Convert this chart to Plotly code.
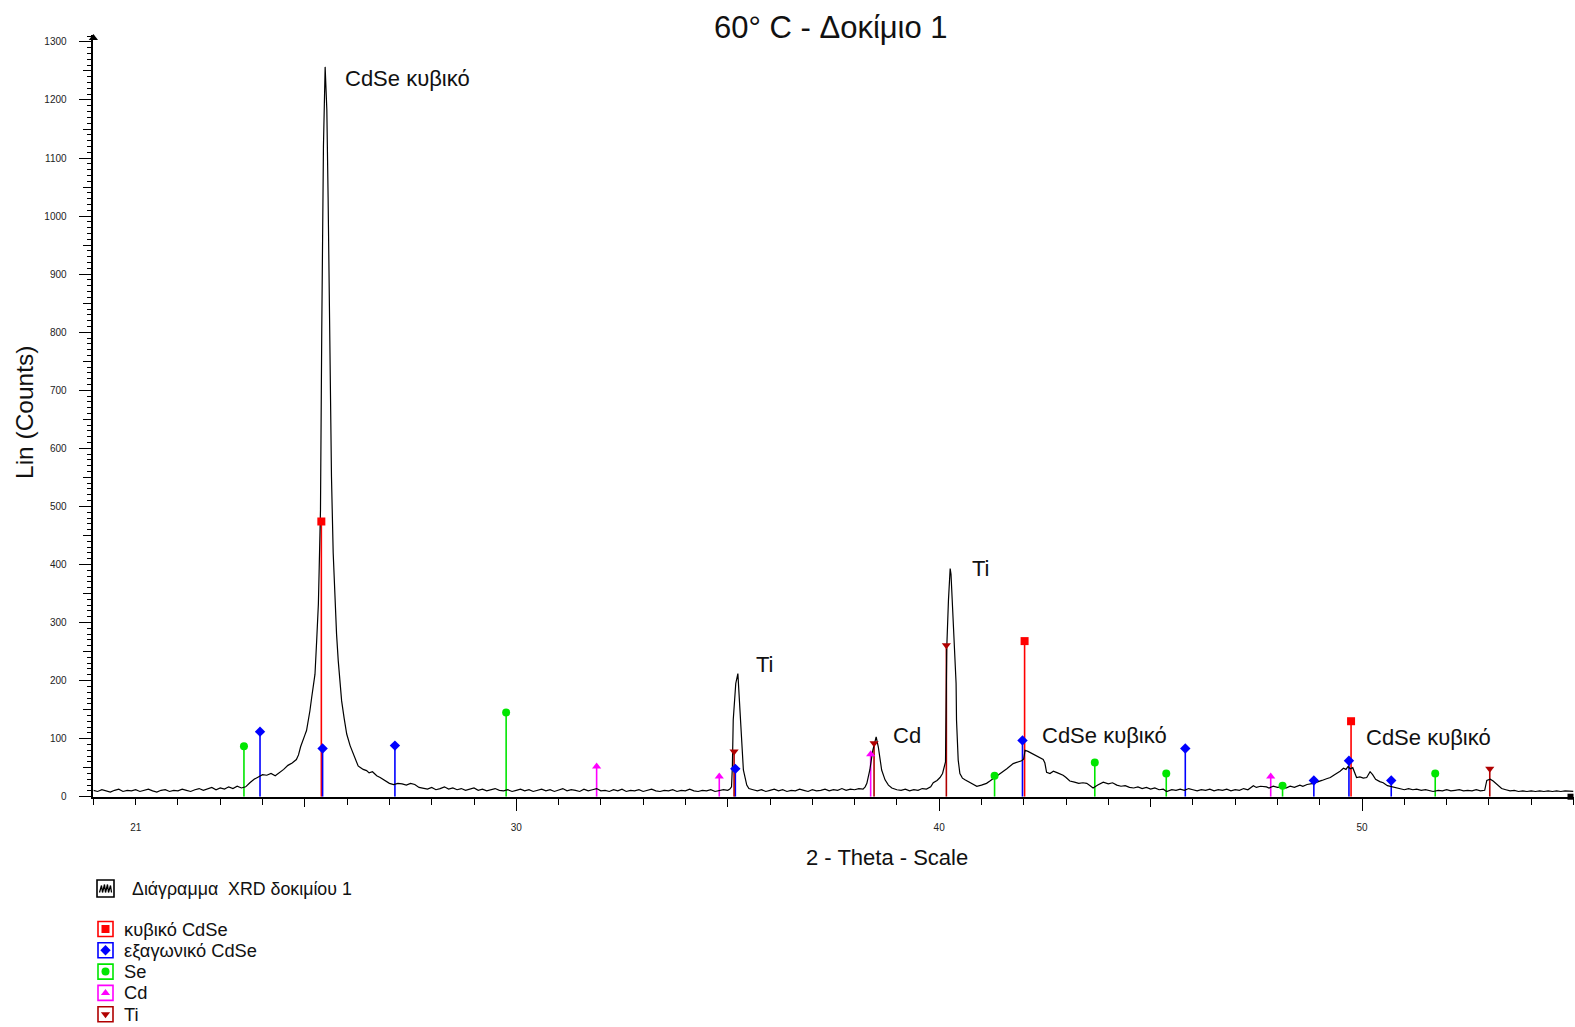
import plotly.graph_objects as go

W, H = 1575, 1027

# ---------------- data ----------------
two_theta = [
    20.0, 20.1, 20.2, 20.3, 20.4, 20.5, 20.6, 20.7, 20.8, 20.9,
    21.0, 21.1, 21.2, 21.3, 21.4, 21.5, 21.6, 21.7, 21.8, 21.9,
    22.0, 22.1, 22.2, 22.3, 22.4, 22.5, 22.6, 22.7, 22.8, 22.9,
    23.0, 23.1, 23.2, 23.3, 23.4, 23.5, 23.6, 23.7, 23.8, 23.9,
    24.0, 24.1, 24.2, 24.3, 24.4, 24.5, 24.6, 24.7, 24.8, 24.85,
    24.9, 24.95, 25.0, 25.04, 25.08, 25.12, 25.16, 25.2, 25.24, 25.28,
    25.32, 25.34, 25.37, 25.40, 25.44, 25.48, 25.50, 25.52, 25.55, 25.59,
    25.63, 25.67, 25.71, 25.75, 25.79, 25.83, 25.87, 25.93, 25.99, 26.07,
    26.15, 26.2, 26.26, 26.32, 26.38, 26.46, 26.52, 26.6, 26.7, 26.78,
    26.86, 26.94, 27.0, 27.1, 27.2, 27.3, 27.4, 27.5, 27.6, 27.7,
    27.8, 27.9, 28.0, 28.1, 28.2, 28.3, 28.4, 28.5, 28.6, 28.7,
    28.8, 28.9, 29.0, 29.1, 29.2, 29.3, 29.4, 29.5, 29.6, 29.7,
    29.8, 29.9, 30.0, 30.1, 30.2, 30.3, 30.4, 30.5, 30.6, 30.7,
    30.8, 30.9, 31.0, 31.1, 31.2, 31.3, 31.4, 31.5, 31.6, 31.7,
    31.8, 31.9, 32.0, 32.1, 32.2, 32.3, 32.4, 32.5, 32.6, 32.7,
    32.8, 32.9, 33.0, 33.1, 33.2, 33.3, 33.4, 33.5, 33.6, 33.7,
    33.8, 33.9, 34.0, 34.1, 34.2, 34.3, 34.4, 34.5, 34.6, 34.7,
    34.8, 34.9, 35.0, 35.05, 35.09, 35.11, 35.13, 35.19, 35.24, 35.27,
    35.33, 35.37, 35.45, 35.5, 35.6, 35.7, 35.8, 35.9, 36.0, 36.1,
    36.2, 36.3, 36.4, 36.5, 36.6, 36.7, 36.8, 36.9, 37.0, 37.1,
    37.2, 37.3, 37.4, 37.5, 37.6, 37.7, 37.8, 37.9, 38.0, 38.1,
    38.2, 38.25, 38.29, 38.36, 38.43, 38.51, 38.56, 38.64, 38.72, 38.8,
    38.88, 39.0, 39.1, 39.2, 39.3, 39.4, 39.5, 39.6, 39.7, 39.8,
    39.86, 39.95, 40.02, 40.08, 40.15, 40.18, 40.22, 40.26, 40.28, 40.31,
    40.37, 40.40, 40.41, 40.45, 40.49, 40.55, 40.61, 40.7, 40.8, 40.89,
    41.0, 41.12, 41.2, 41.28, 41.4, 41.52, 41.6, 41.75, 41.85, 41.95,
    42.0, 42.03, 42.1, 42.15, 42.2, 42.31, 42.4, 42.46, 42.5, 42.54,
    42.62, 42.7, 42.8, 42.93, 43.0, 43.09, 43.2, 43.3, 43.4, 43.49,
    43.57, 43.64, 43.75, 43.88, 44.0, 44.1, 44.2, 44.3, 44.4, 44.5,
    44.6, 44.7, 44.8, 44.9, 45.0, 45.1, 45.2, 45.3, 45.38, 45.5,
    45.6, 45.7, 45.8, 45.9, 46.0, 46.1, 46.2, 46.3, 46.4, 46.5,
    46.6, 46.7, 46.8, 46.9, 47.0, 47.1, 47.2, 47.3, 47.43, 47.5,
    47.6, 47.74, 47.8, 47.9, 48.0, 48.14, 48.2, 48.3, 48.4, 48.53,
    48.6, 48.7, 48.85, 48.95, 49.05, 49.16, 49.25, 49.33, 49.40, 49.48,
    49.56, 49.62, 49.67, 49.72, 49.78, 49.87, 49.95, 50.03, 50.11, 50.19,
    50.25, 50.32, 50.42, 50.5, 50.6, 50.7, 50.8, 50.9, 51.0, 51.1,
    51.2, 51.29, 51.4, 51.5, 51.6, 51.68, 51.8, 51.9, 52.0, 52.1,
    52.2, 52.3, 52.4, 52.5, 52.6, 52.7, 52.8, 52.9, 52.95, 53.03,
    53.1, 53.2, 53.3, 53.4, 53.5, 53.6, 53.7, 53.8, 53.9, 54.0,
    54.1, 54.2, 54.3, 54.4, 54.5, 54.6, 54.7, 54.8, 54.9, 55.0,
]
counts = [
    11, 9, 12, 10, 8, 11, 13, 9, 11, 10,
    12, 9, 11, 13, 10, 8, 11, 12, 9, 11,
    10, 13, 11, 9, 12, 14, 11, 13, 16, 12,
    15, 13, 17, 14, 18, 15, 17, 24, 30, 34,
    38, 37, 40, 36, 41, 47, 54, 58, 64, 72,
    86, 98, 106, 114, 130, 148, 170, 190, 211, 269,
    332, 395, 494, 804, 1120, 1257, 1229, 1183, 1033, 781,
    551, 420, 343, 280, 234, 195, 165, 135, 108, 88,
    73, 62, 53, 50, 47, 45, 41, 43, 36, 33,
    29, 25, 23, 21, 23, 22, 20, 23, 21, 16,
    15, 13, 16, 12, 14, 17, 13, 15, 12, 14,
    11, 13, 15, 11, 13, 10, 12, 14, 11, 10,
    12, 9, 11, 13, 10, 12, 9, 11, 13, 10,
    12, 9, 11, 14, 10, 12, 11, 9, 13, 10,
    12, 14, 10, 11, 9, 12, 10, 13, 9, 11,
    10, 12, 9, 11, 13, 10, 9, 11, 10, 12,
    9, 11, 10, 13, 10, 9, 11, 10, 12, 9,
    11, 12, 11, 13, 17, 52, 132, 195, 212, 178,
    109, 46, 20, 14, 12, 10, 12, 9, 11, 13,
    10, 12, 9, 11, 10, 13, 11, 9, 12, 10,
    11, 13, 10, 12, 11, 14, 11, 13, 12, 14,
    13, 17, 23, 46, 80, 103, 86, 46, 29, 20,
    15, 12, 11, 13, 10, 12, 11, 14, 13, 17,
    24, 28, 33, 40, 60, 258, 339, 393, 383, 339,
    258, 195, 132, 63, 40, 32, 29, 25, 21, 18,
    20, 23, 27, 31, 37, 43, 48, 57, 59, 62,
    65, 80, 78, 76, 74, 70, 67, 64, 58, 42,
    40, 44, 41, 37, 33, 27, 25, 23, 24, 23,
    19, 15, 20, 25, 22, 24, 20, 18, 19, 16,
    15, 17, 14, 16, 13, 15, 12, 13, 9, 12,
    11, 13, 11, 14, 12, 10, 12, 11, 13, 10,
    12, 11, 13, 10, 12, 11, 14, 12, 19, 16,
    18, 17, 15, 18, 16, 17, 15, 18, 16, 20,
    18, 21, 23, 25, 28, 31, 33, 37, 40, 44,
    49, 47, 52, 48, 50, 33, 34, 32, 33, 43,
    38, 30, 26, 24, 19, 17, 15, 14, 12, 14,
    12, 13, 11, 12, 10, 9, 11, 10, 12, 10,
    11, 12, 10, 11, 10, 12, 10, 11, 28, 30,
    27, 21, 14, 12, 10, 11, 9, 10, 9, 10,
    9, 10, 9, 10, 9, 10, 9, 10, 9, 9,
]

# reference patterns (stick positions and heights)
cubic_pos = [25.39, 42.02, 49.74]
cubic_int = [474, 268, 130]
hex_pos = [23.94, 25.42, 27.13, 35.18, 41.97, 45.82, 48.86, 49.69, 50.69]
hex_int = [112, 83, 88, 48, 97, 83, 28, 62, 28]
se_pos = [23.56, 29.76, 41.31, 43.68, 45.37, 48.12, 51.73]
se_int = [87, 145, 36, 59, 40, 19, 40]
cd_pos = [31.90, 34.80, 38.38, 47.84]
cd_int = [52, 35, 73, 35]
ti_pos = [35.15, 38.46, 40.17, 53.02]
ti_int = [78, 92, 261, 48]

phase_names = ["κυβικό CdSe", "εξαγωνικό CdSe", "Se", "Cd", "Ti"]
pattern_name = "Διάγραμμα  XRD δοκιμίου 1"

peak_labels = ["CdSe κυβικό", "Ti", "Cd", "Ti", "CdSe κυβικό", "CdSe κυβικό"]
peak_label_x = [25.91, 35.61, 38.86, 40.74, 42.38, 50.05]
peak_label_y = [1237, 227, 106, 393, 106, 102]

x_tick_vals = [21, 30, 40, 50]
y_tick_vals = list(range(0, 1301, 100))

# ---------------- style / layout ----------------
FONT = "Liberation Sans, Arial, sans-serif"
X0, X1 = 93.4, 1573.5          # plot left / right (px)
YT, YB = 35.0, 796.7           # plot top / bottom (px)
PX_PER_COUNT = 0.5806
Y_MAX = (YB - YT) / PX_PER_COUNT

phase_style = [
    dict(color="#FF0000", symbol="square"),
    dict(color="#0000FF", symbol="diamond"),
    dict(color="#00E600", symbol="circle"),
    dict(color="#FF00FF", symbol="triangle-up"),
    dict(color="#B00000", symbol="triangle-down"),
]
phase_pos = [cubic_pos, hex_pos, se_pos, cd_pos, ti_pos]
phase_int = [cubic_int, hex_int, se_int, cd_int, ti_int]

fig = go.Figure()

# sticks
for pos, inten, st in zip(phase_pos, phase_int, phase_style):
    xs, ys = [], []
    for p, h in zip(pos, inten):
        xs += [p, p, None]
        ys += [0, h, None]
    fig.add_trace(go.Scatter(x=xs, y=ys, mode="lines",
                             line=dict(color=st["color"], width=1.6),
                             hoverinfo="skip", showlegend=False))

# measured pattern
fig.add_trace(go.Scatter(x=two_theta, y=counts, mode="lines",
                         line=dict(color="#000000", width=1.2),
                         showlegend=False, name=pattern_name))

# stick markers
for pos, inten, st, nm in zip(phase_pos, phase_int, phase_style, phase_names):
    fig.add_trace(go.Scatter(x=pos, y=inten, mode="markers", name=nm,
                             marker=dict(color=st["color"], symbol=st["symbol"], size=8,
                                         line=dict(width=0)),
                             showlegend=False))

# dummy traces so overlay tick axes are drawn
fig.add_trace(go.Scatter(x=[None], y=[None], xaxis="x2", yaxis="y", showlegend=False))
fig.add_trace(go.Scatter(x=[None], y=[None], xaxis="x3", yaxis="y", showlegend=False))
fig.add_trace(go.Scatter(x=[None], y=[None], xaxis="x", yaxis="y2", showlegend=False))

# ---- custom legend in pixel coordinates (aux axes x4/y4 spanning the figure) ----
LEG_X = 105.5
leg_rows = [929 + 21.3 * i for i in range(5)]
for yy, st in zip(leg_rows, phase_style):
    fig.add_trace(go.Scatter(x=[LEG_X], y=[yy], xaxis="x4", yaxis="y4", mode="markers",
                             marker=dict(symbol="square-open", size=15, color=st["color"],
                                         line=dict(width=1.6, color=st["color"])),
                             hoverinfo="skip", showlegend=False))
    fig.add_trace(go.Scatter(x=[LEG_X], y=[yy], xaxis="x4", yaxis="y4", mode="markers",
                             marker=dict(symbol=st["symbol"], size=8, color=st["color"]),
                             hoverinfo="skip", showlegend=False))
# pattern icon
fig.add_trace(go.Scatter(x=[LEG_X], y=[888.5], xaxis="x4", yaxis="y4", mode="markers",
                         marker=dict(symbol="square-open", size=17, color="#000",
                                     line=dict(width=1.6, color="#000")),
                         hoverinfo="skip", showlegend=False))
icon_dx = [-6, -4, -3, -1, 0, 2, 3, 5, 6]
icon_dy = [4, -3, 4, -4, 4, -4, 4, -3, 4]
fig.add_trace(go.Scatter(x=[LEG_X + d for d in icon_dx], y=[888.5 + d for d in icon_dy],
                         xaxis="x4", yaxis="y4", mode="lines",
                         line=dict(color="#000", width=1.3),
                         hoverinfo="skip", showlegend=False))
# axis arrow heads
fig.add_trace(go.Scatter(x=[X0], y=[YT + 3], xaxis="x4", yaxis="y4", mode="markers",
                         marker=dict(symbol="triangle-up", size=8, color="#000"),
                         hoverinfo="skip", showlegend=False))
fig.add_trace(go.Scatter(x=[X1 - 3], y=[YB], xaxis="x4", yaxis="y4", mode="markers",
                         marker=dict(symbol="square", size=6, color="#000"),
                         hoverinfo="skip", showlegend=False))

annotations = []
for txt, yy in zip([pattern_name], [888.5]):
    annotations.append(dict(x=130 / W, y=1 - yy / H, xref="paper", yref="paper",
                            text=txt, showarrow=False, xanchor="left", yanchor="middle",
                            font=dict(family=FONT, size=17.8, color="#111")))
for txt, yy in zip(phase_names, leg_rows):
    annotations.append(dict(x=122 / W, y=1 - yy / H, xref="paper", yref="paper",
                            text=txt, showarrow=False, xanchor="left", yanchor="middle",
                            font=dict(family=FONT, size=18.3, color="#111")))
# peak labels
for txt, lx, ly in zip(peak_labels, peak_label_x, peak_label_y):
    annotations.append(dict(x=lx, y=ly, xref="x", yref="y", text=txt, showarrow=False,
                            xanchor="left", yanchor="middle",
                            font=dict(family=FONT, size=22, color="#111")))
# title and axis titles
annotations.append(dict(x=831 / W, y=1 - 27 / H, xref="paper", yref="paper",
                        text="60° C - Δοκίμιο 1", showarrow=False,
                        xanchor="center", yanchor="middle",
                        font=dict(family=FONT, size=31, color="#111")))
annotations.append(dict(x=887 / W, y=1 - 857 / H, xref="paper", yref="paper",
                        text="2 - Theta - Scale", showarrow=False,
                        xanchor="center", yanchor="middle",
                        font=dict(family=FONT, size=22, color="#111")))
annotations.append(dict(x=24 / W, y=1 - 413 / H, xref="paper", yref="paper",
                        text="Lin (Counts)", showarrow=False, textangle=-90,
                        xanchor="center", yanchor="middle",
                        font=dict(family=FONT, size=24.5, color="#111")))

xdom = [X0 / W, X1 / W]
ydom = [1 - YB / H, 1 - YT / H]

fig.update_layout(
    width=W, height=H,
    margin=dict(l=0, r=0, t=0, b=0, pad=0),
    paper_bgcolor="white", plot_bgcolor="rgba(0,0,0,0)",
    showlegend=False,
    annotations=annotations,
    xaxis=dict(domain=xdom, range=[20, 55], anchor="y",
               tickvals=x_tick_vals, ticktext=[str(v) for v in x_tick_vals],
               ticks="outside", ticklen=6, tickwidth=1.2, tickcolor="#000",
               minor=dict(dtick=1, tick0=20, ticks="outside", ticklen=6,
                          tickwidth=1.2, tickcolor="#000", showgrid=False),
               ticklabelstandoff=14,
               tickfont=dict(family=FONT, size=10, color="#222"),
               showline=True, linecolor="#000", linewidth=1.6,
               showgrid=False, zeroline=False, automargin=False),
    xaxis2=dict(overlaying="x", range=[20, 55], anchor="y",
                tickvals=[30, 40, 50], ticks="outside", ticklen=13, tickwidth=1.4,
                tickcolor="#000", showticklabels=False, showline=False,
                showgrid=False, zeroline=False, automargin=False),
    xaxis3=dict(overlaying="x", range=[20, 55], anchor="y",
                tickvals=[25, 35, 45], ticks="outside", ticklen=9, tickwidth=1.2,
                tickcolor="#000", showticklabels=False, showline=False,
                showgrid=False, zeroline=False, automargin=False),
    yaxis=dict(domain=ydom, range=[0, Y_MAX], anchor="x",
               tickvals=y_tick_vals, ticktext=[str(v) for v in y_tick_vals],
               ticks="outside", ticklen=13, tickwidth=1.2, tickcolor="#000",
               minor=dict(dtick=10, tick0=0, ticks="outside", ticklen=5,
                          tickwidth=1.1, tickcolor="#000", showgrid=False),
               ticklabelstandoff=10,
               tickfont=dict(family=FONT, size=10, color="#222"),
               showline=True, linecolor="#000", linewidth=1.6,
               showgrid=False, zeroline=False, automargin=False),
    yaxis2=dict(overlaying="y", range=[0, Y_MAX], anchor="x",
                tickvals=list(range(50, 1301, 100)), ticks="outside", ticklen=9,
                tickwidth=1.2, tickcolor="#000", showticklabels=False,
                showline=False, showgrid=False, zeroline=False, automargin=False),
    xaxis4=dict(domain=[0, 1], range=[0, W], anchor="y4", visible=False,
                fixedrange=True),
    yaxis4=dict(domain=[0, 1], range=[H, 0], anchor="x4", visible=False,
                fixedrange=True),
)

# remove the browser's default 8px body margin so the figure sits at the page origin
fig.write_html("out.html",
               config={"displayModeBar": False},
               post_script="document.body.style.margin='0';document.body.style.overflow='hidden';")
